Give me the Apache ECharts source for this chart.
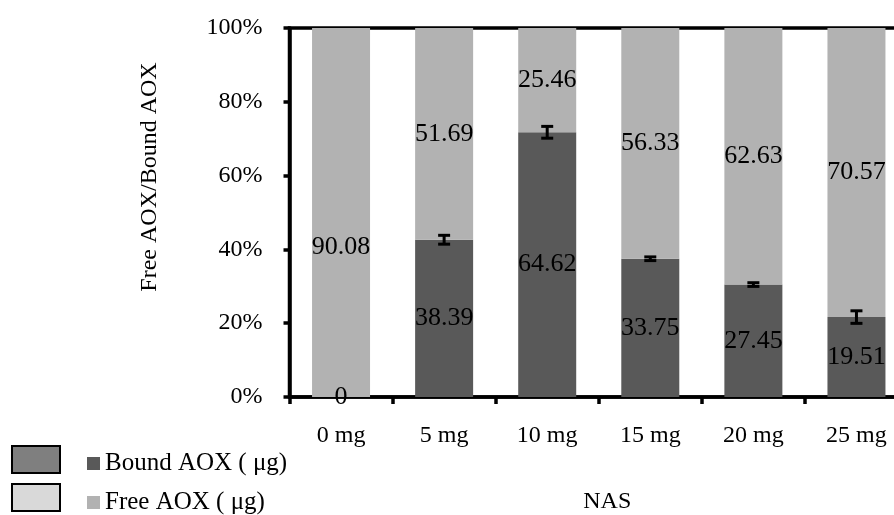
<!DOCTYPE html>
<html><head><meta charset="utf-8">
<script src="https://cdn.jsdelivr.net/npm/echarts@6/dist/echarts.min.js"></script>
<style>html,body{margin:0;padding:0;background:#fff;overflow:hidden}#c{width:894px;height:515px}</style>
</head><body><div id="c"></div>
<script>
const categories = ['0 mg', '5 mg', '10 mg', '15 mg', '20 mg', '25 mg'];
const boundAOX = [0, 38.39, 64.62, 33.75, 27.45, 19.51];
const freeAOX = [90.08, 51.69, 25.46, 56.33, 62.63, 70.57];
const boundErrPct = [0, 1.2, 1.6, 0.5, 0.5, 1.7];
const yTickLabels = ['0%', '20%', '40%', '60%', '80%', '100%'];
const seriesNames = ['Bound AOX ( μg)', 'Free AOX ( μg)'];

const FONT = 'Liberation Serif';
const boundPct = boundAOX.map((b, i) => b / (b + freeAOX[i]) * 100);
const freePct = freeAOX.map((f, i) => f / (boundAOX[i] + f) * 100);

const legendCommon = {
  orient: 'vertical', left: 87, itemWidth: 13, itemHeight: 13, padding: 0, itemGap: 0,
  icon: 'rect', textStyle: { fontFamily: FONT, fontSize: 25, color: '#000', padding: [0, 0, 0, 0] }
};

const chart = echarts.init(document.getElementById('c'));
chart.setOption({
  animation: false,
  textStyle: { fontFamily: FONT },
  grid: { left: 289.5, top: 28, right: -14, height: 369, outerBoundsMode: 'none', containLabel: false,
    show: true, borderColor: '#000', borderWidth: 3.5, backgroundColor: 'transparent' },
  legend: [
    Object.assign({}, legendCommon, { data: [seriesNames[0]], top: 451 }),
    Object.assign({}, legendCommon, { data: [seriesNames[1]], top: 490 })
  ],
  xAxis: {
    type: 'category', data: categories, name: 'NAS', nameLocation: 'middle', nameGap: 93,
    nameTextStyle: { fontFamily: FONT, fontSize: 24, color: '#000', padding: [0, 0, 0, 17] },
    axisLine: { lineStyle: { color: '#000', width: 3.5 } },
    axisTick: { show: true, length: 7, lineStyle: { color: '#000', width: 3.5 } },
    axisLabel: { fontFamily: FONT, fontSize: 24, color: '#000', margin: 27 }
  },
  yAxis: {
    type: 'value', min: 0, max: 100, interval: 20,
    axisLine: { show: true, lineStyle: { color: '#000', width: 3.5 } },
    axisTick: { show: true, length: 6, lineStyle: { color: '#000', width: 3.5 } },
    splitLine: { show: false },
    axisLabel: { fontFamily: FONT, fontSize: 24, color: '#000', margin: 27,
      formatter: v => yTickLabels[Math.round(v / 20)] }
  },
  graphic: [
    { type: 'rect', shape: { x: 12, y: 446, width: 48, height: 27 }, style: { fill: '#7f7f7f', stroke: '#000', lineWidth: 2 } },
    { type: 'rect', shape: { x: 12, y: 484, width: 48, height: 27 }, style: { fill: '#d9d9d9', stroke: '#000', lineWidth: 2 } },
    { type: 'text', x: 150, y: 177, rotation: Math.PI / 2,
      style: { text: 'Free AOX/Bound AOX', font: '24px "Liberation Serif"', fill: '#000', textAlign: 'center', textVerticalAlign: 'middle' } }
  ],
  series: [
    { name: seriesNames[0], type: 'bar', stack: 'a', barWidth: 58,
      itemStyle: { color: '#595959' },
      label: { show: true, position: 'inside', fontFamily: FONT, fontSize: 26, color: '#000',
        formatter: p => String(boundAOX[p.dataIndex]) },
      data: boundPct },
    { name: seriesNames[1], type: 'bar', stack: 'a', barWidth: 58,
      itemStyle: { color: '#b2b2b2' },
      label: { show: true, position: 'inside', fontFamily: FONT, fontSize: 26, color: '#000',
        formatter: p => freeAOX[p.dataIndex].toFixed(2) },
      data: freePct.map((v, i) => i === 0 ? { value: v, label: { offset: [0, 35] } } : v) },
    { name: 'err', type: 'custom', z: 10,
      data: boundPct.map((v, i) => [i, v, boundErrPct[i]]),
      encode: { x: 0, y: 1 },
      renderItem: (params, api) => {
        const e = api.value(2);
        if (!e) return null;
        const hi = api.coord([api.value(0), api.value(1) + e]);
        const lo = api.coord([api.value(0), api.value(1) - e]);
        const w = 6;
        const st = { stroke: '#000', lineWidth: 3 };
        return { type: 'group', children: [
          { type: 'line', shape: { x1: hi[0], y1: hi[1], x2: lo[0], y2: lo[1] }, style: st },
          { type: 'line', shape: { x1: hi[0] - w, y1: hi[1], x2: hi[0] + w, y2: hi[1] }, style: st },
          { type: 'line', shape: { x1: lo[0] - w, y1: lo[1], x2: lo[0] + w, y2: lo[1] }, style: st }
        ] };
      }
    }
  ]
});
</script></body></html>
